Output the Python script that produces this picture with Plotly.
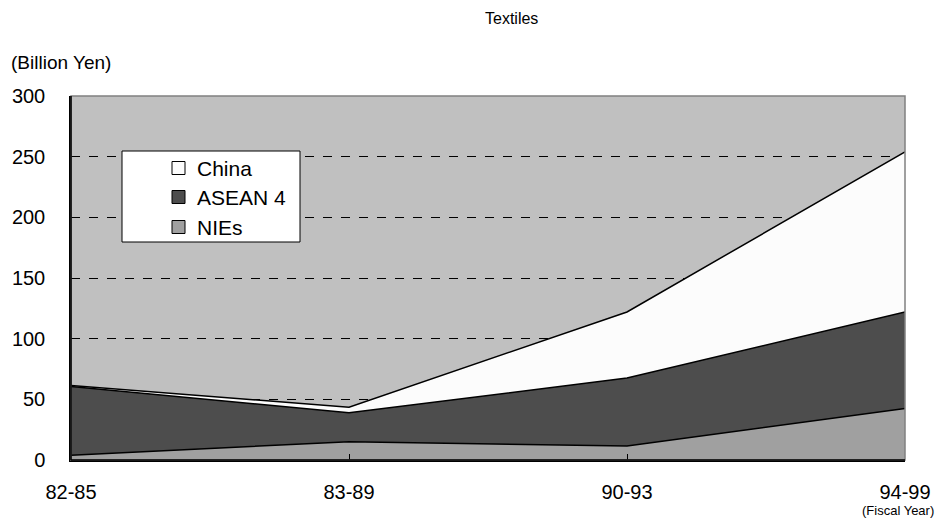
import plotly.graph_objects as go

categories = ["82-85", "83-89", "90-93", "94-99"]
nies = [4, 15, 11.5, 42.5]
asean4 = [56.5, 24, 56, 79.5]
china = [1, 4.5, 54.5, 132]
y_ticks = [0, 50, 100, 150, 200, 250, 300]

xpos = list(range(len(categories)))
font = "Liberation Sans, Arial, sans-serif"

fig = go.Figure()
series = [("NIEs", nies, "#A0A0A0"), ("ASEAN 4", asean4, "#4D4D4D"), ("China", china, "#FCFCFC")]
for name, vals, col in series:
    fig.add_trace(go.Scatter(
        x=xpos, y=vals, name=name, stackgroup="one", mode="lines",
        line=dict(color="black", width=1.5), fillcolor=col, showlegend=False,
    ))

# page offset of 8px (body margin) compensated in margins
fig.update_layout(
    width=950, height=518,
    margin=dict(l=63, r=53, t=88, b=66),
    paper_bgcolor="white", plot_bgcolor="#C0C0C0",
    font=dict(family=font, size=20, color="black"),
    showlegend=False,
    xaxis=dict(
        range=[0, 3], tickvals=xpos, ticktext=categories, automargin=False,
        showgrid=False, zeroline=False, showline=True, linecolor="black", linewidth=1.5,
        ticks="inside", ticklen=6, tickcolor="black", ticklabelstandoff=13,
        tickfont=dict(size=20),
    ),
    yaxis=dict(
        range=[0, 300], tickvals=y_ticks, automargin=False,
        showgrid=True, gridcolor="black", griddash="dash", gridwidth=1,
        zeroline=False, showline=True, linecolor="black", linewidth=1.5,
        ticks="", ticklabelstandoff=20, tickfont=dict(size=20),
    ),
)

pw, ph = 905 - 71, 460 - 96
def px(x): return (x - 71) / pw
def py(y): return (460 - y) / ph

anns = [
    dict(text="Textiles", x=px(511), y=py(18), xanchor="center", yanchor="middle", font=dict(size=16)),
    dict(text="(Billion Yen)", x=px(9), y=py(62), xanchor="left", yanchor="middle", font=dict(size=19)),
    dict(text="(Fiscal Year)", x=px(936), y=py(510), xanchor="right", yanchor="middle", font=dict(size=13)),
]

shapes = [
    dict(type="rect", xref="paper", yref="paper", x0=0, y0=0, x1=1, y1=1,
         line=dict(color="#808080", width=1.5), layer="above"),
    dict(type="line", xref="paper", yref="paper", x0=0, y0=0, x1=0, y1=1,
         line=dict(color="black", width=1.5), layer="above"),
    dict(type="line", xref="paper", yref="paper", x0=0, y0=0, x1=1, y1=0,
         line=dict(color="black", width=1.5), layer="above"),
    dict(type="rect", xref="paper", yref="paper", x0=px(122), y0=py(242), x1=px(300), y1=py(151),
         fillcolor="white", line=dict(color="black", width=1), layer="above"),
]

legend_rows = [("China", "#FCFCFC", 168), ("ASEAN 4", "#4D4D4D", 197), ("NIEs", "#A0A0A0", 227)]
for name, col, yc in legend_rows:
    shapes.append(dict(type="rect", xref="paper", yref="paper",
                       x0=px(172), x1=px(185), y0=py(yc + 6.5), y1=py(yc - 6.5),
                       fillcolor=col, line=dict(color="black", width=1), layer="above"))
    anns.append(dict(text=name, x=px(195), y=py(yc), xanchor="left", yanchor="middle",
                     font=dict(size=21)))

for a in anns:
    a.update(xref="paper", yref="paper", showarrow=False)

fig.update_layout(annotations=anns, shapes=shapes)
fig.write_html("out.html")
